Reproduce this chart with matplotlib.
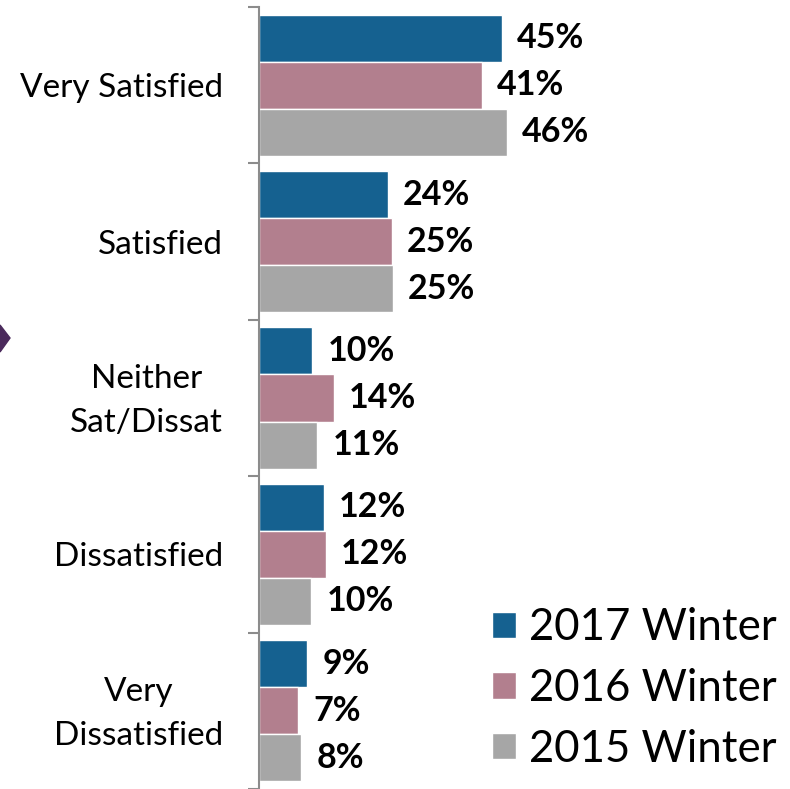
import numpy as np
import matplotlib.pyplot as plt
import matplotlib.transforms as mtransforms
from matplotlib.patches import Polygon

categories = ['Very Satisfied', 'Satisfied', 'Neither\nSat/Dissat', 'Dissatisfied', 'Very\nDissatisfied']
series = ['2017 Winter', '2016 Winter', '2015 Winter']
w2017 = [45.0, 23.9, 9.9, 12.0, 8.9]
w2016 = [41.3, 24.6, 13.9, 12.4, 7.3]
w2015 = [45.9, 24.8, 10.8, 9.7, 7.8]
colors = ['#156190', '#b27f8e', '#a6a6a6']

plt.rcParams['font.family'] = ['Lato', 'DejaVu Sans']

fig = plt.figure(figsize=(7.9, 7.89), dpi=100)
ax = fig.add_axes([259/790, 0, 1 - 259/790, 1 - 7/789])

n = len(categories)
y = np.arange(n)
bw = 0.301
vals = [w2017, w2016, w2015]
for i, (v, c, lab) in enumerate(zip(vals, colors, series)):
    pos = y + (i - 1) * bw
    ax.barh(pos, v, height=bw, color=c, edgecolor='white', linewidth=1, label=lab)
    for p, val in zip(pos, v):
        ax.text(val + 2.8, p, '%d%%' % round(val), va='center', ha='left',
                fontsize=24.5, fontweight='bold', color='black')

ax.set_xlim(0, (790 - 259) / 5.4)
ax.set_ylim(n - 0.5, -0.5)
ax.set_yticks(y)
ax.set_yticklabels(categories, fontsize=24, linespacing=1.58, ha='right',
                   multialignment='center')
ax.tick_params(axis='y', length=0, pad=26)
# two-line labels sit a touch high in the original
up = mtransforms.ScaledTranslation(0, 5/72, fig.dpi_scale_trans)
for t in ax.get_yticklabels():
    if '\n' in t.get_text():
        t.set_transform(t.get_transform() + up)
# boundary ticks
ax.set_yticks(np.arange(-0.5, n, 1), minor=True)
ax.tick_params(axis='y', which='minor', length=8, color='#8c8c8c', width=1.5)
ax.set_xticks([])
for s in ['top', 'right', 'bottom']:
    ax.spines[s].set_visible(False)
ax.spines['left'].set_color('#8c8c8c')
ax.spines['left'].set_linewidth(1.5)

leg = ax.legend(loc='lower right', bbox_to_anchor=(1.0, 0.008), frameon=False,
                fontsize=31.5, handlelength=0.55, handleheight=0.55,
                handletextpad=0.3, labelspacing=0.45, borderaxespad=0,
                borderpad=0.3)

# small arrow at left edge
tri = Polygon([(0, 1 - 325/789), (10/790, 1 - 338/789), (0, 1 - 352/789)],
              closed=True, transform=fig.transFigure, color='#4b2a5c', clip_on=False)
fig.patches.append(tri)

fig.savefig('out.png', dpi=100)
